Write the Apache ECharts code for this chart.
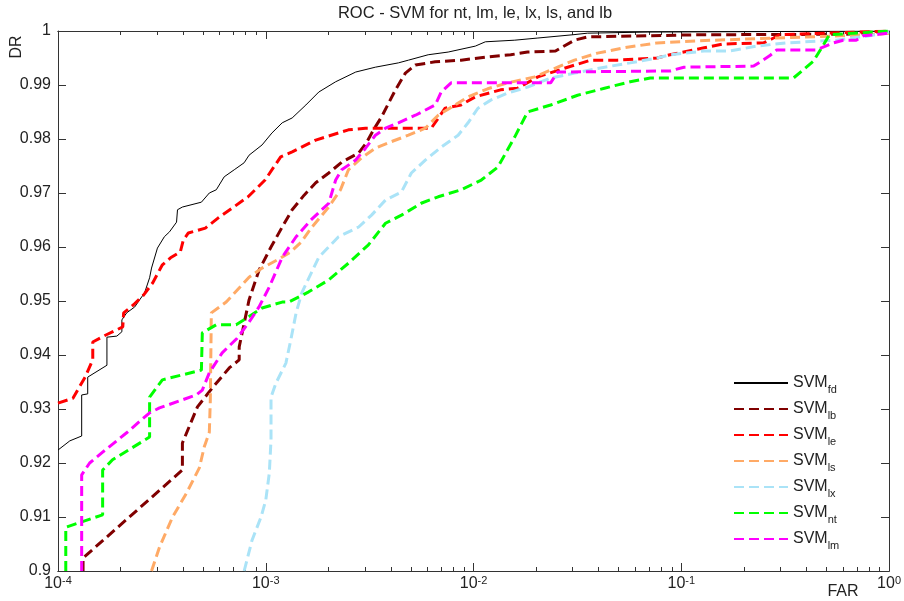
<!DOCTYPE html>
<html><head><meta charset="utf-8">
<script src="https://cdn.jsdelivr.net/npm/echarts@6/dist/echarts.min.js"></script>
<style>html,body{margin:0;padding:0;background:#fff}#c{width:904px;height:601px}</style>
</head><body><div id="c"></div><script>
// ---- data (FAR, DR) ----
const fdX = [1e-4,1.14e-4,1.30e-4,1.30e-4,1.39e-4,1.39e-4,1.72e-4,1.72e-4,1.92e-4,2.03e-4,2.03e-4,2.14e-4,2.34e-4,2.47e-4,2.61e-4,2.76e-4,2.82e-4,3.01e-4,3.25e-4,3.44e-4,3.72e-4,3.76e-4,3.97e-4,4.90e-4,5.35e-4,5.78e-4,6.31e-4,7.05e-4,7.87e-4,8.31e-4,9.60e-4,1.07e-3,1.20e-3,1.34e-3,1.56e-3,1.80e-3,2.17e-3,2.71e-3,3.37e-3,4.35e-3,4.86e-3,6.05e-3,7.55e-3,1.02e-2,1.14e-2,1.58e-2,2.04e-2,3.0e-2,3.54e-2,6.85e-2,1];
const fdY = [0.9224,0.9241,0.9250,0.9326,0.9328,0.9359,0.9381,0.9433,0.9435,0.9443,0.9465,0.9478,0.9489,0.9502,0.9515,0.9543,0.9561,0.9598,0.9619,0.9628,0.9646,0.9669,0.9674,0.9683,0.9700,0.9706,0.9730,0.9743,0.9756,0.9770,0.9789,0.9811,0.9830,0.9839,0.9863,0.9887,0.9906,0.9924,0.9933,0.9941,0.9946,0.9956,0.9961,0.9972,0.9980,0.9983,0.9987,0.9993,0.9996,0.9998,1];
const lbX = [1.32e-4,1.32e-4,3.97e-4,3.97e-4,4.69e-4,5.53e-4,6.67e-4,7.45e-4,7.45e-4,8.31e-4,9.28e-4,1.06e-3,1.20e-3,1.34e-3,1.53e-3,1.74e-3,2.01e-3,2.32e-3,2.80e-3,3.05e-3,3.30e-3,3.61e-3,4.21e-3,4.70e-3,5.25e-3,6.54e-3,8.71e-3,1.17e-2,1.51e-2,1.82e-2,2.48e-2,3.06e-2,3.54e-2,0.119,0.622,1];
const lbY = [0.9,0.9024,0.9187,0.9237,0.9304,0.9339,0.9376,0.9391,0.9415,0.9502,0.9557,0.9600,0.9637,0.9669,0.9696,0.9719,0.9737,0.9757,0.9774,0.9793,0.9817,0.9841,0.9891,0.9922,0.9937,0.9943,0.9946,0.9952,0.9956,0.9961,0.9963,0.9983,0.9989,0.9993,0.9994,1];
const leX = [1e-4,1.18e-4,1.35e-4,1.47e-4,1.47e-4,1.70e-4,2.05e-4,2.07e-4,2.31e-4,2.58e-4,2.85e-4,3.18e-4,3.48e-4,3.88e-4,4.01e-4,4.24e-4,5.12e-4,5.91e-4,6.89e-4,8.22e-4,9.92e-4,1.18e-3,1.34e-3,1.74e-3,2.50e-3,3.02e-3,6.26e-3,7.30e-3,8.71e-3,1.02e-2,1.35e-2,1.63e-2,2.04e-2,2.74e-2,3.66e-2,4.92e-2,7.65e-2,8.83e-2,0.129,0.160,0.249,0.278,0.297,1];
const leY = [0.9311,0.9320,0.9359,0.9391,0.9424,0.9437,0.9452,0.9478,0.9493,0.9511,0.9533,0.9567,0.9580,0.9591,0.9613,0.9626,0.9635,0.9654,0.9672,0.9693,0.9724,0.9767,0.9776,0.9798,0.9817,0.9820,0.9820,0.9857,0.9863,0.9878,0.9891,0.9894,0.9915,0.9931,0.9946,0.9946,0.9950,0.9956,0.9969,0.9976,0.9978,0.9987,0.9993,1];
const lsX = [2.82e-4,3.08e-4,3.56e-4,4.15e-4,4.79e-4,5.06e-4,5.35e-4,5.41e-4,5.47e-4,6.45e-4,8.31e-4,9.60e-4,1.16e-3,1.32e-3,1.48e-3,1.67e-3,2.01e-3,2.29e-3,2.50e-3,2.89e-3,3.37e-3,3.89e-3,4.86e-3,5.86e-3,6.76e-3,8.15e-3,9.41e-3,1.17e-2,1.46e-2,1.97e-2,2.54e-2,3.06e-2,3.95e-2,5.32e-2,7.65e-2,0.144,0.288,0.802,1];
const lsY = [0.9,0.9044,0.9100,0.9144,0.9191,0.9230,0.9257,0.9317,0.9478,0.9498,0.9544,0.9561,0.9578,0.9591,0.9609,0.9637,0.9674,0.9706,0.9743,0.9765,0.9783,0.9793,0.9807,0.9820,0.9844,0.9863,0.9878,0.9893,0.9904,0.9915,0.9933,0.9946,0.9959,0.9969,0.9978,0.9983,0.9987,0.9993,0.9996];
const lxX = [7.87e-4,8.59e-4,9.49e-4,1.00e-3,1.04e-3,1.06e-3,1.06e-3,1.12e-3,1.25e-3,1.32e-3,1.40e-3,1.49e-3,1.80e-3,2.24e-3,2.80e-3,3.23e-3,3.77e-3,4.50e-3,5.02e-3,5.86e-3,6.99e-3,8.43e-3,9.41e-3,1.05e-2,1.21e-2,1.46e-2,1.82e-2,2.35e-2,3.06e-2,4.27e-2,5.68e-2,7.65e-2,8.83e-2,0.129,0.171,0.231,0.321,0.557,0.802,1];
const lxY = [0.9,0.9057,0.9100,0.9131,0.9181,0.9243,0.9322,0.9348,0.9385,0.9428,0.9478,0.9515,0.9581,0.9619,0.9637,0.9659,0.9687,0.9702,0.9737,0.9761,0.9785,0.9807,0.9830,0.9857,0.9872,0.9885,0.9896,0.9913,0.9922,0.9933,0.9941,0.9950,0.9956,0.9963,0.9963,0.9972,0.9978,0.9983,0.9991,0.9998];
const ntX = [1.09e-4,1.09e-4,1.30e-4,1.64e-4,1.64e-4,1.83e-4,2.76e-4,2.76e-4,3.18e-4,4.90e-4,4.95e-4,5.78e-4,7.20e-4,9.60e-4,1.20e-3,1.29e-3,1.61e-3,2.01e-3,2.50e-3,3.12e-3,3.77e-3,4.50e-3,5.60e-3,6.76e-3,8.71e-3,1.09e-2,1.31e-2,1.58e-2,1.82e-2,2.35e-2,3.17e-2,4.27e-2,5.68e-2,7.09e-2,0.347,0.432,0.483,0.516,1];
const ntY = [0.9,0.9081,0.9091,0.9104,0.9187,0.9206,0.9248,0.9322,0.9354,0.9372,0.9441,0.9456,0.9456,0.9487,0.9498,0.9498,0.9517,0.9539,0.9570,0.9604,0.9644,0.9659,0.9681,0.9693,0.9706,0.9724,0.9748,0.9804,0.9850,0.9863,0.9881,0.9894,0.9906,0.9913,0.9913,0.9944,0.9974,0.9993,1];
const lmX = [1.30e-4,1.30e-4,1.42e-4,1.64e-4,2.14e-4,2.76e-4,3.08e-4,4.63e-4,4.95e-4,5.35e-4,6.17e-4,7.28e-4,8.31e-4,9.28e-4,1.04e-3,1.20e-3,1.40e-3,1.65e-3,1.86e-3,2.01e-3,2.17e-3,2.32e-3,2.71e-3,3.02e-3,3.37e-3,3.77e-3,4.35e-3,5.25e-3,6.54e-3,6.99e-3,7.80e-3,2.35e-2,2.54e-2,8.83e-2,0.103,0.223,0.266,0.288,0.447,0.539,0.602,0.695,0.751,1];
const lmY = [0.9,0.9178,0.9200,0.9220,0.9256,0.9293,0.9302,0.9326,0.9335,0.9367,0.9404,0.9431,0.9461,0.9489,0.9526,0.9581,0.9619,0.9650,0.9669,0.9681,0.9724,0.9743,0.9761,0.9783,0.9807,0.9820,0.9830,0.9844,0.9863,0.9887,0.9904,0.9904,0.9924,0.9926,0.9933,0.9935,0.9954,0.9965,0.9965,0.9978,0.9983,0.9983,0.9991,0.9996];

const seriesNames = ['fd','lb','le','ls','lx','nt','lm'];
const majorTicks = [1e-4,1e-3,1e-2,1e-1,1];
const minorTicks = [2e-4,3e-4,4e-4,5e-4,6e-4,7e-4,8e-4,9e-4,2e-3,3e-3,4e-3,5e-3,6e-3,7e-3,8e-3,9e-3,2e-2,3e-2,4e-2,5e-2,6e-2,7e-2,8e-2,9e-2,0.2,0.3,0.4,0.5,0.6,0.7,0.8,0.9];
const title = 'ROC - SVM for nt, lm, le, lx, ls, and lb';

// ---- chart ----
const FONT = 'Liberation Sans, Arial, Helvetica, sans-serif';
const AX = '#333';
const zip = (xs, ys) => xs.map((x, i) => [x, ys[i]]);
const styles = {
  fd: {color: '#000000', width: 1, type: 'solid'},
  lb: {color: '#800000', width: 3, type: [10, 5]},
  le: {color: '#FF0000', width: 3, type: [10, 5]},
  ls: {color: '#FFAA66', width: 3, type: [10, 5]},
  lx: {color: '#AAE3F7', width: 3, type: [10, 5]},
  nt: {color: '#00FF00', width: 3, type: [10, 5]},
  lm: {color: '#FF00FF', width: 3, type: [10, 5]}
};
const dataMap = {fd: zip(fdX, fdY), lb: zip(lbX, lbY), le: zip(leX, leY), ls: zip(lsX, lsY), lx: zip(lxX, lxY), nt: zip(ntX, ntY), lm: zip(lmX, lmY)};

function xAx(pos, ticks, len, labels) {
  return {
    type: 'log', logBase: 10, min: 1e-4, max: 1, position: pos, gridIndex: 0,
    axisLine: {show: true, onZero: false, lineStyle: {color: AX, width: 1}},
    axisTick: {show: true, inside: true, length: len, customValues: ticks, lineStyle: {color: AX}},
    minorTick: {show: false},
    splitLine: {show: false},
    axisLabel: labels ? {
      show: true, customValues: majorTicks, margin: 4,
      formatter: v => '{b|10}{s|' + Math.round(Math.log10(v)) + '}',
      rich: {
        b: {fontFamily: FONT, fontSize: 16, color: '#222', lineHeight: 17, verticalAlign: 'bottom', padding: [7, 0, 0, 0]},
        s: {fontFamily: FONT, fontSize: 11, color: '#222', lineHeight: 12, verticalAlign: 'top', padding: [0, 0, 12, 0]}
      }
    } : {show: false}
  };
}
function yAx(pos, labels) {
  return {
    type: 'value', min: 0.9, max: 1, interval: 0.01, position: pos,
    axisLine: {show: true, onZero: false, lineStyle: {color: AX, width: 1}},
    axisTick: {show: true, inside: true, length: 8, lineStyle: {color: AX}},
    splitLine: {show: false},
    axisLabel: labels ? {show: true, fontFamily: FONT, fontSize: 16, color: '#222', margin: 7} : {show: false}
  };
}

const chart = echarts.init(document.getElementById('c'), null, {renderer: 'canvas'});
chart.setOption({
  animation: false,
  backgroundColor: '#fff',
  grid: {left: 58, right: 11, top: 31, bottom: 30, containLabel: false},
  xAxis: [xAx('bottom', majorTicks, 8, true), xAx('bottom', minorTicks, 4, false), xAx('top', majorTicks, 8, false), xAx('top', minorTicks, 4, false)],
  yAxis: [yAx('left', true), yAx('right', false)],
  legend: {
    orient: 'vertical', left: 733, top: 371, padding: 0, itemGap: 2, itemWidth: 54, itemHeight: 14,
    data: seriesNames.map(n => 'SVM_' + n),
    itemStyle: {opacity: 0},
    formatter: name => '{m|SVM}{s|' + name.slice(4) + '}',
    textStyle: {
      rich: {
        m: {fontFamily: FONT, fontSize: 16, color: '#222', lineHeight: 16},
        s: {fontFamily: FONT, fontSize: 11, color: '#222', lineHeight: 11, padding: [13, 0, 0, 0]}
      }
    }
  },
  graphic: [
    {type: 'text', x: 475, y: 13, style: {text: title, font: '16.5px ' + FONT, fill: '#222', textAlign: 'center', textVerticalAlign: 'middle'}},
    {type: 'text', x: 17, y: 47, rotation: Math.PI / 2, style: {text: 'DR', font: '16px ' + FONT, fill: '#222', textAlign: 'center', textVerticalAlign: 'middle'}},
    {type: 'text', x: 843, y: 592, style: {text: 'FAR', font: '16px ' + FONT, fill: '#222', textAlign: 'center', textVerticalAlign: 'middle'}}
  ],
  series: seriesNames.map(n => ({
    name: 'SVM_' + n, type: 'line', xAxisIndex: 0, yAxisIndex: 0,
    data: dataMap[n], showSymbol: false, symbol: 'none', clip: true,
    lineStyle: {color: styles[n].color, width: styles[n].width, type: styles[n].type},
    itemStyle: {color: styles[n].color}
  }))
});
</script></body></html>
